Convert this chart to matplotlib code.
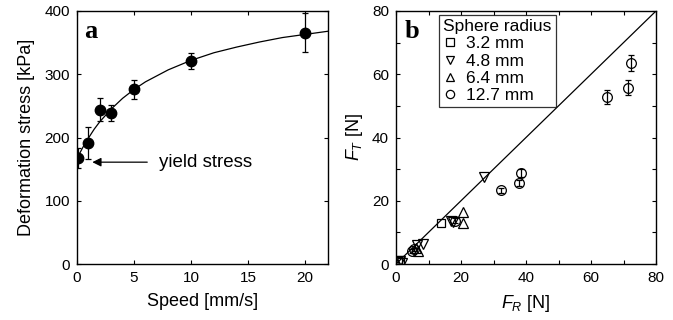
import numpy as np
import matplotlib
matplotlib.use("Agg")
import matplotlib.pyplot as plt
from matplotlib.ticker import MultipleLocator

plt.rcParams['font.family'] = ['Liberation Sans', 'DejaVu Sans']
plt.rcParams['mathtext.fontset'] = 'custom'
plt.rcParams['mathtext.it'] = 'Liberation Sans:italic'
plt.rcParams['mathtext.rm'] = 'Liberation Sans'

# Panel a: deformation stress vs speed
speed = [0.1, 1, 2, 3, 5, 10, 20]
stress = [167, 191, 244, 239, 276, 321, 366]
stress_err = [16, 25, 18, 13, 15, 13, 31]

# fitted curve
fit_speed = [0, 0.5, 1, 1.5, 2, 3, 4, 5, 6, 8, 10, 12, 14, 16, 18, 20, 22]
fit_stress = [167, 184, 199, 213, 225, 245, 262, 276, 288, 307, 322, 334, 343, 351, 358, 363, 368]

# Panel b: F_T vs F_R per sphere radius
sq_fr = [13.8, 0.5, 1.2]
sq_ft = [13.1, 1.1, 1.4]

dn_fr = [27.1, 16.9, 17.6, 8.2, 6.6, 1.7, 1.1]
dn_ft = [27.6, 13.6, 13.4, 6.3, 5.9, 0.4, 1.0]

up_fr = [20.6, 20.6, 6.9, 6.2]
up_ft = [16.4, 13.0, 4.0, 5.0]

ci_fr = [72.2, 71.3, 64.9, 38.6, 37.8, 32.3, 18.0, 4.9, 5.5]
ci_ft = [63.6, 55.8, 52.8, 28.8, 25.7, 23.3, 13.7, 4.1, 4.6]
ci_err = [2.6, 2.3, 2.2, 1.3, 1.0, 0.8, 0.8, 0.5, 0.5]

fig = plt.figure(figsize=(6.73, 3.2), dpi=100)
ax1 = fig.add_axes([77/673, 56/320, 251/673, 253/320])
ax2 = fig.add_axes([396/673, 56/320, 260/673, 253/320])

# ---- panel a
ax1.plot(fit_speed, fit_stress, color='black', lw=0.9, zorder=2)
ax1.errorbar(speed, stress, yerr=stress_err, fmt='o', color='black', ms=7.5,
             elinewidth=0.9, capsize=2, capthick=0.9, zorder=3)
ax1.annotate('', xy=(1.1, 161), xytext=(6.4, 161),
             arrowprops=dict(arrowstyle='-|>', color='black', lw=0.9,
                             mutation_scale=13))
ax1.text(7.2, 161, 'yield stress', fontsize=13.5, va='center', ha='left')
ax1.text(0.03, 0.965, 'a', transform=ax1.transAxes, fontsize=19,
         fontweight='bold', family='Liberation Serif', va='top', ha='left')
ax1.set_xlim(0, 22)
ax1.set_ylim(0, 400)
ax1.xaxis.set_major_locator(MultipleLocator(5))
ax1.yaxis.set_major_locator(MultipleLocator(100))
ax1.set_xlabel('Speed [mm/s]', fontsize=13, labelpad=6)
ax1.set_ylabel('Deformation stress [kPa]', fontsize=13, labelpad=7)

# ---- panel b
ax2.plot([0, 80], [0, 80], color='black', lw=0.9, zorder=1)
mk = dict(mfc='none', mec='black', mew=0.9, ls='none', color='black', ms=7)
ax2.plot(sq_fr, sq_ft, marker='s', label='3.2 mm', **dict(mk, ms=6))
ax2.plot(dn_fr, dn_ft, marker='v', label='4.8 mm', **mk)
ax2.plot(up_fr, up_ft, marker='^', label='6.4 mm', **mk)
ax2.plot(ci_fr, ci_ft, marker='o', label='12.7 mm', **mk)
ax2.errorbar(ci_fr, ci_ft, yerr=ci_err, fmt='none', ecolor='black',
             elinewidth=0.9, capsize=2, capthick=0.9)
leg = ax2.legend(title='Sphere radius', loc='upper left',
                 bbox_to_anchor=(0.165, 0.985), fontsize=12.5, title_fontsize=12.5,
                 frameon=True, fancybox=False, edgecolor='black',
                 handlelength=0.8, handletextpad=0.5, borderpad=0.25,
                 labelspacing=0.12, markerscale=0.85, borderaxespad=0)
leg.get_frame().set_linewidth(0.9)
leg._legend_box.align = 'left'
ax2.text(0.035, 0.965, 'b', transform=ax2.transAxes, fontsize=19,
         fontweight='bold', family='Liberation Serif', va='top', ha='left')
ax2.set_xlim(0, 80)
ax2.set_ylim(0, 80)
ax2.xaxis.set_major_locator(MultipleLocator(20))
ax2.yaxis.set_major_locator(MultipleLocator(20))
ax2.xaxis.set_minor_locator(MultipleLocator(10))
ax2.yaxis.set_minor_locator(MultipleLocator(10))
ax2.set_xlabel(r'$F_R$ [N]', fontsize=13, labelpad=6)
ax2.set_ylabel(r'$F_T$ [N]', fontsize=13, labelpad=5)

for ax in (ax1, ax2):
    ax.tick_params(which='both', direction='in', top=True, right=True,
                   labelsize=11, length=3, width=0.8, pad=5)
    for s in ax.spines.values():
        s.set_linewidth(1.0)

fig.savefig('out.png', dpi=100)
